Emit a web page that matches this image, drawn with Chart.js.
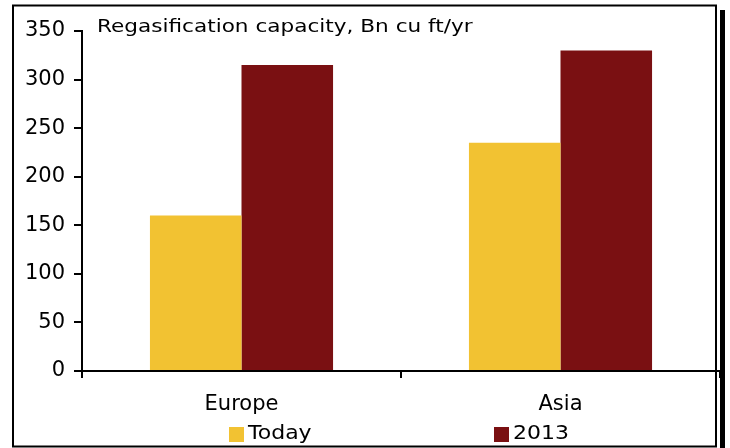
<!DOCTYPE html>
<html>
<head>
<meta charset="utf-8">
<script src="https://cdn.jsdelivr.net/npm/chart.js@4"></script>
<style>
  html, body { margin: 0; padding: 0; background: #ffffff; }
  #wrap { position: relative; width: 730px; height: 448px; }
</style>
</head>
<body>
<div id="wrap"><canvas id="regasChart" width="730" height="448"></canvas></div>
<script>
// Datos del gráfico
const regions = ['Europe', 'Asia'];
const todayValues = [160, 235];
const values2013 = [315, 330];
const yTicks = [0, 50, 100, 150, 200, 250, 300, 350];
const chartTitle = 'Regasification capacity, Bn cu ft/yr';

const FONT = '"DejaVu Sans", Verdana, sans-serif';
const YELLOW = '#f2c232';
const DARK_RED = '#7a1012';

// Texto ensanchado (el original usa una fuente más ancha)
function wideText(ctx, text, x, y, stretch) {
    ctx.save();
    ctx.translate(x, y);
    ctx.scale(stretch, 1);
    ctx.fillText(text, 0, 0);
    ctx.restore();
}

// Marco, título y leyenda dibujados sobre el canvas
const framePlugin = {
    id: 'frame',
    afterDraw(chart) {
        const ctx = chart.ctx;
        const area = chart.chartArea;
        ctx.save();
        // marco con sombra
        ctx.strokeStyle = '#000000';
        ctx.lineWidth = 2;
        ctx.strokeRect(13, 5.5, 703, 441);
        ctx.fillStyle = '#000000';
        ctx.fillRect(720, 10, 5, 438);

        // título dentro del área
        ctx.fillStyle = '#000000';
        ctx.font = '17px ' + FONT;
        ctx.textBaseline = 'middle';
        ctx.textAlign = 'left';
        wideText(ctx, chartTitle, area.left + 15, 28, 1.27);

        // leyenda
        const items = chart.data.datasets.map(ds => ({ label: ds.label, color: ds.backgroundColor }));
        const xs = [229, 494];
        ctx.font = '20px ' + FONT;
        items.forEach((item, i) => {
            ctx.fillStyle = item.color;
            ctx.fillRect(xs[i], 427, 15, 15);
            ctx.fillStyle = '#000000';
            wideText(ctx, item.label, xs[i] + 19, 434, 1.1);
        });
        ctx.restore();
    }
};

const ctx = document.getElementById('regasChart').getContext('2d');
new Chart(ctx, {
    type: 'bar',
    data: {
        labels: regions,
        datasets: [
            {
                label: 'Today',
                data: todayValues,
                backgroundColor: YELLOW,
                borderWidth: 0
            },
            {
                label: '2013',
                data: values2013,
                backgroundColor: DARK_RED,
                borderWidth: 0
            }
        ]
    },
    options: {
        responsive: false,
        animation: false,
        layout: {
            padding: { left: 0, right: 10, top: 31, bottom: 0 }
        },
        datasets: {
            bar: {
                barPercentage: 1.0,
                categoryPercentage: 0.574
            }
        },
        plugins: {
            legend: { display: false },
            title: { display: false },
            tooltip: { enabled: false }
        },
        scales: {
            x: {
                grid: {
                    display: true,
                    offset: true,
                    drawOnChartArea: false,
                    drawTicks: true,
                    tickLength: 7,
                    color: '#000000',
                    lineWidth: 2
                },
                border: { display: true, color: '#000000', width: 2 },
                ticks: {
                    color: '#000000',
                    font: { family: FONT, size: 21 },
                    padding: 14
                },
                afterFit(scale) {
                    scale.height = 77;
                }
            },
            y: {
                min: 0,
                max: 350,
                afterBuildTicks(scale) {
                    scale.ticks = yTicks.map(v => ({ value: v }));
                },
                grid: {
                    display: true,
                    drawOnChartArea: false,
                    drawTicks: true,
                    tickLength: 8,
                    color: '#000000',
                    lineWidth: 2
                },
                border: { display: true, color: '#000000', width: 2 },
                ticks: {
                    color: '#000000',
                    font: { family: FONT, size: 21 },
                    padding: 9
                },
                afterFit(scale) {
                    scale.width = 82;
                }
            }
        }
    },
    plugins: [framePlugin]
});
</script>
</body>
</html>
